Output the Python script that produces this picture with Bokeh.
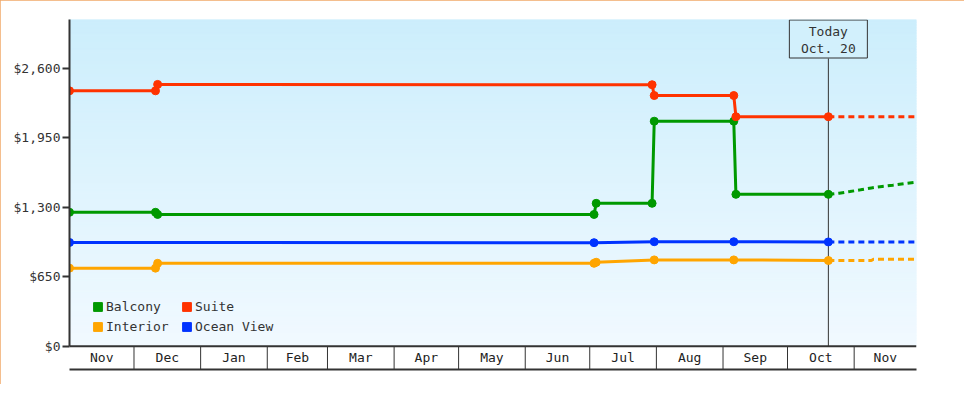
import numpy as np
import pandas as pd
from bokeh.plotting import figure
from bokeh.models import (Range1d, FixedTicker, NumeralTickFormatter, Span,
                          Legend, LegendItem)
from bokeh.core.properties import value
from bokeh.embed import file_html
from bokeh.resources import INLINE

# ---------------- data ----------------
balcony_dates = ["2022-11-01", "2022-12-11", "2022-12-12", "2023-07-03", "2023-07-04",
                 "2023-07-30", "2023-07-31", "2023-09-06", "2023-09-07", "2023-10-20"]
balcony_prices = [1252, 1252, 1232, 1232, 1336, 1336, 2104, 2104, 1420, 1420]

suite_dates = ["2022-11-01", "2022-12-11", "2022-12-12", "2023-07-30", "2023-07-31",
               "2023-09-06", "2023-09-07", "2023-10-20"]
suite_prices = [2388, 2388, 2448, 2445, 2344, 2344, 2146, 2146]

interior_dates = ["2022-11-01", "2022-12-11", "2022-12-12", "2023-07-03", "2023-07-04",
                  "2023-07-31", "2023-09-06", "2023-10-20"]
interior_prices = [730, 730, 775, 775, 785, 807, 807, 801]

ocean_dates = ["2022-11-01", "2023-07-03", "2023-07-31", "2023-09-06", "2023-10-20"]
ocean_prices = [970, 968, 977, 977, 975]

# projections after today (dashed)
balcony_proj_dates = ["2023-10-20", "2023-10-25", "2023-10-30", "2023-11-04", "2023-11-09",
                      "2023-11-14", "2023-11-19", "2023-11-24", "2023-11-30"]
balcony_proj_prices = [1420, 1431, 1446, 1462, 1480, 1494, 1506, 1520, 1534]
suite_proj_dates = ["2023-10-20", "2023-11-30"]
suite_proj_prices = [2146, 2146]
interior_proj_dates = ["2023-10-20", "2023-11-09", "2023-11-10", "2023-11-30"]
interior_proj_prices = [801, 801, 813, 813]
ocean_proj_dates = ["2023-10-20", "2023-11-30"]
ocean_proj_prices = [975, 975]

today_date = "2023-10-20"
today_lines = ["Today", "Oct. 20"]

month_labels = ["Nov", "Dec", "Jan", "Feb", "Mar", "Apr", "May", "Jun",
                "Jul", "Aug", "Sep", "Oct", "Nov"]
x_start_date = "2022-11-01"
x_end_date = "2023-11-30"

y_ticks = [0, 650, 1300, 1950, 2600]
y_top = 3055
y_bottom = -218

series_names = ["Balcony", "Interior", "Ocean View", "Suite"]
series_colors = ["#009900", "#FFA500", "#0033FF", "#FF3300"]

# ---------------- figure ----------------
FONT = "DejaVu Sans Mono"
TXT = "#333333"
frame_w, frame_h = 847, 350

x_start = pd.Timestamp(x_start_date)
x_end = pd.Timestamp(x_end_date)

p = figure(output_backend="svg", toolbar_location=None,
           frame_width=frame_w, frame_height=frame_h,
           min_border_left=69, min_border_right=48, min_border_top=19, min_border_bottom=15,
           x_range=Range1d(x_start, x_end), y_range=Range1d(y_bottom, y_top),
           x_axis_type="datetime")
p.background_fill_color = "white"
p.border_fill_color = "white"
p.outline_line_color = None
p.xgrid.visible = False
p.ygrid.visible = False
p.styles = {"outline": "2px solid #F0A868", "outline-offset": "-2px"}

# gradient background of the plotting area (above $0)
n_bands = 120
ys = np.linspace(0, y_top, n_bands + 1)
top_rgb = np.array([204, 238, 252])
bot_rgb = np.array([241, 249, 255])
band_colors = []
for i in range(n_bands):
    t = (i + 0.5) / n_bands
    c = bot_rgb + (top_rgb - bot_rgb) * t
    band_colors.append("#%02x%02x%02x" % tuple(int(round(v)) for v in c))
p.quad(left=x_start, right=x_end, bottom=ys[:-1], top=ys[1:],
       fill_color=band_colors, line_color=band_colors, line_width=1)

# month box: separators and labels
month_starts = list(pd.date_range(x_start, periods=len(month_labels), freq="MS"))
month_ends = month_starts[1:] + [x_end]
month_mids = [a + (b - a) / 2 for a, b in zip(month_starts, month_ends)]
p.segment(x0=month_starts[1:], y0=y_bottom, x1=month_starts[1:], y1=0,
          line_color=TXT, line_width=1)
p.text(x=month_mids, y=[y_bottom / 2] * len(month_mids), text=month_labels,
       text_align="center", text_baseline="middle", text_font=value(FONT),
       text_font_size="13px", text_color="#222222")

p.add_layout(Span(location=0, dimension="width", line_color=TXT, line_width=2))

# today marker
dpp = (y_top - y_bottom) / frame_h
today = pd.Timestamp(today_date)
box_w, box_h = 79, 39
p.segment(x0=[today], y0=[0], x1=[today], y1=[y_top - box_h * dpp],
          line_color=TXT, line_width=1)
p.rect(x=[today], y=[y_top - box_h / 2 * dpp], width=box_w - 1, height=box_h - 1,
       width_units="screen", height_units="screen",
       fill_color="#D2F0FC", line_color=TXT, line_width=1)
p.text(x=[today, today], y=[y_top - 12.2 * dpp, y_top - 29 * dpp], text=today_lines,
       text_align="center", text_baseline="middle", text_font=value(FONT),
       text_font_size="13px", text_color=TXT)

# series
hist = [(balcony_dates, balcony_prices), (interior_dates, interior_prices),
        (ocean_dates, ocean_prices), (suite_dates, suite_prices)]
proj = [(balcony_proj_dates, balcony_proj_prices), (interior_proj_dates, interior_proj_prices),
        (ocean_proj_dates, ocean_proj_prices), (suite_proj_dates, suite_proj_prices)]
legend_renderers = {}
for (d, v), (pd_, pv), name, col in zip(hist, proj, series_names, series_colors):
    dx = pd.to_datetime(d)
    p.line(pd.to_datetime(pd_), pv, line_color=col, line_width=3, line_dash="6 4")
    p.line(dx, v, line_color=col, line_width=3)
    p.scatter(dx, v, marker="circle", size=8, fill_color=col, line_color=col)
    # swatch-only renderer for the legend (NaN data draws nothing in the plot)
    legend_renderers[name] = p.quad(left=[np.nan], right=[np.nan], top=[np.nan],
                                    bottom=[np.nan], fill_color=col, line_color=col)

# axes
yax = p.yaxis[0]
yax.ticker = FixedTicker(ticks=y_ticks)
yax.formatter = NumeralTickFormatter(format="$0,0")
yax.bounds = (0, y_top)
yax.axis_line_color = TXT
yax.axis_line_width = 2
yax.major_tick_line_color = TXT
yax.major_tick_line_width = 2
yax.major_tick_out = 7
yax.major_tick_in = 0
yax.minor_tick_line_color = None
yax.major_label_standoff = 2
yax.major_label_text_font = FONT
yax.major_label_text_font_size = "13px"
yax.major_label_text_color = TXT

xax = p.xaxis[0]
xax.ticker = FixedTicker(ticks=[])
xax.axis_line_color = TXT
xax.axis_line_width = 2
xax.major_tick_out = 0
xax.major_tick_in = 0
xax.minor_tick_out = 0
xax.minor_tick_in = 0
xax.major_label_standoff = 0
xax.major_label_text_font_size = "0px"

legend = Legend(items=[LegendItem(label=n, renderers=[legend_renderers[n]])
                       for n in ["Balcony", "Interior", "Suite", "Ocean View"]],
                location=(23, 33), orientation="vertical", ncols=2,
                glyph_width=11, glyph_height=11, label_standoff=3,
                label_width=75, label_height=20, spacing=0, padding=0, margin=0,
                label_text_font=FONT, label_text_font_size="13px",
                label_text_color=TXT, background_fill_alpha=0,
                border_line_color=None)
p.add_layout(legend)

open("out.html", "w").write(file_html(p, INLINE))
